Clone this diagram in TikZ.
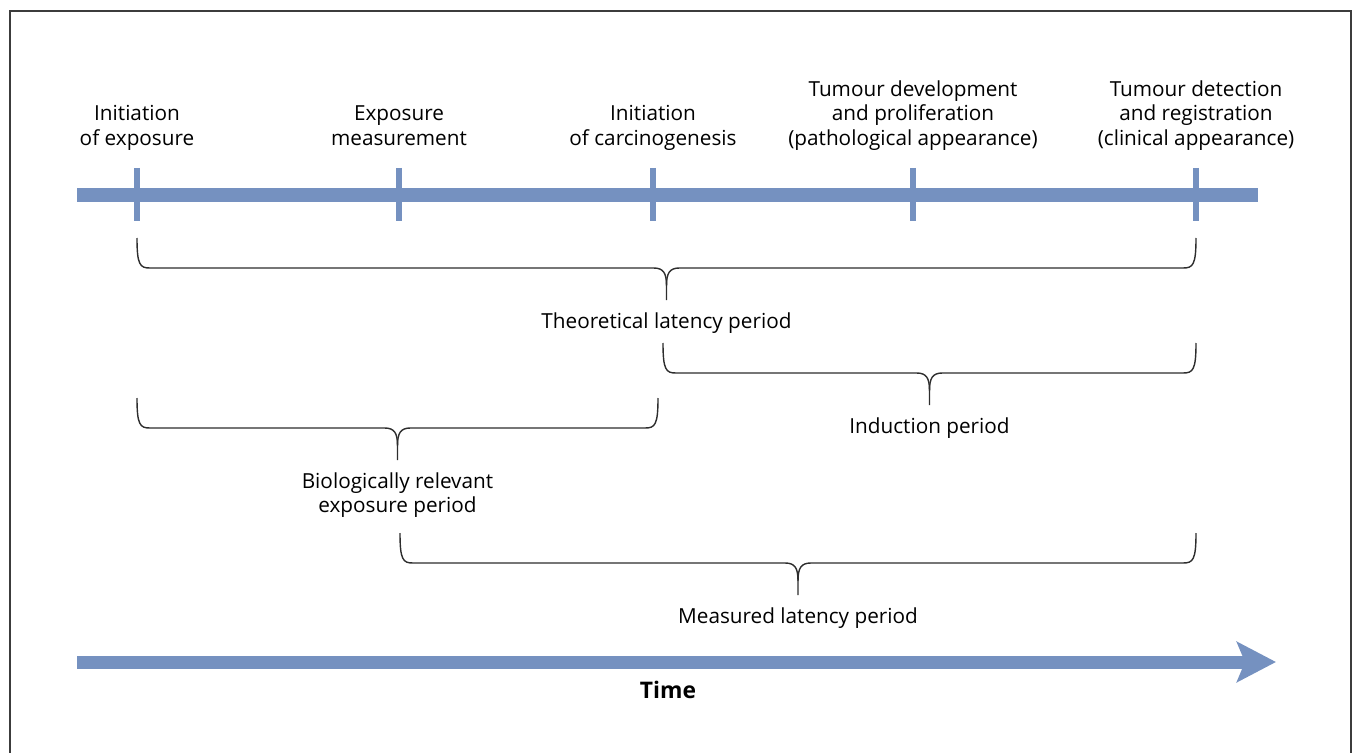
\documentclass[tikz,border=0pt]{standalone}
\usepackage{fontspec}
\setmainfont{Open Sans}
\usepackage{tikz}
\usetikzlibrary{arrows.meta, positioning}
\definecolor{timeblue}{RGB}{117,145,192}
\definecolor{bracegray}{RGB}{45,45,45}
\definecolor{framegray}{RGB}{60,60,60}

\newcommand{\periodbrace}[5]{%
  \pgfmathsetmacro{\bmid}{(#1+#2)/2}
  \draw[brace] (#1,#3-30) .. controls (#1,#3-3) and (#1+3,#3) .. (#1+13,#3)
    -- (\bmid-13,#3) .. controls (\bmid-3,#3) and (\bmid,#3+5) .. (\bmid,#3+18)
    -- (\bmid,#3+32);
  \draw[brace] (#2,#3-30) .. controls (#2,#3-3) and (#2-3,#3) .. (#2-13,#3)
    -- (\bmid+13,#3) .. controls (\bmid+3,#3) and (\bmid,#3+5) .. (\bmid,#3+18);
  \node[periodlabel] (#4) at (\bmid,#3+44) {#5};
}

\begin{document}
\begin{tikzpicture}[
            x=0.02cm, y=-0.02cm,
                labelfont/.style = {font=\fontsize{11.8}{13.9}\selectfont},
                toplabel/.style = {labelfont, align=center, anchor=south,
                            inner sep=0pt, execute at end node=\strut},
                periodlabel/.style = {labelfont, align=center, anchor=north,
                            inner sep=0pt},
                timebar/.style = {draw=timeblue, line width=0.28cm},
                tickmark/.style = {draw=timeblue, line width=0.12cm},
                timearrow/.style = {draw=timeblue, line width=0.26cm,
                            -{Stealth[length=0.78cm, width=0.8cm, inset=0.16cm]}},
                brace/.style = {draw=bracegray, line width=0.8pt},
                frame/.style = {draw=framegray, line width=1.3pt}]
            \useasboundingbox (0,0) rectangle (1355,753);
            \draw[frame] (10,770) -- (10,11) -- (1351,11) -- (1351,770);

            \coordinate (barstart) at (77,195);
            \coordinate (barend) at (1258,195);
            \draw[timebar] (barstart) -- (barend);
            \foreach \x in {137,399,653,913,1196}
                \draw[tickmark] (\x,168) -- (\x,221);

            \node (initexposure) [toplabel] at (137,153) {Initiation\\of exposure};
            \node (measurement) [toplabel] at (399,153) {Exposure\\measurement};
            \node (initcarcino) [toplabel] at (653,153) {Initiation\\of carcinogenesis};
            \node (development) [toplabel] at (913,153) {Tumour development\\and proliferation\\(pathological appearance)};
            \node (detection) [toplabel] at (1196,153) {Tumour detection\\and registration\\(clinical appearance)};

            \periodbrace{137}{1196}{268}{theoretical}{Theoretical latency period}
            \periodbrace{663}{1196}{373}{induction}{Induction period}
            \periodbrace{137}{658}{428}{biological}{Biologically relevant\\exposure period}
            \periodbrace{400}{1196}{563}{measured}{Measured latency period}

            \coordinate (timestart) at (77,662);
            \coordinate (timeend) at (1276,662);
            \draw[timearrow] (timestart) -- (timeend);
            \node (time) [anchor=base, font=\fontsize{13}{15}\selectfont\bfseries] at (668,698) {Time};
        \end{tikzpicture}
\end{document}
